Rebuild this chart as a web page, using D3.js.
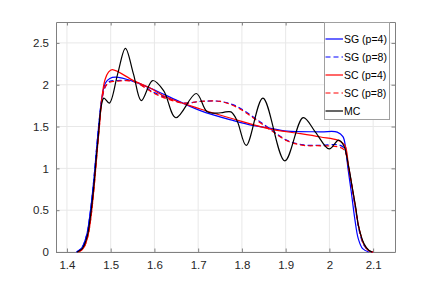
<!DOCTYPE html>
<html>
<head>
<meta charset="utf-8">
<script src="https://cdn.jsdelivr.net/npm/d3@7"></script>
<style>
  body { margin: 0; background: #fff; }
  svg { display: block; font-family: "Liberation Sans", Arial, sans-serif; }
</style>
</head>
<body>
<svg id="chart" width="436" height="284"></svg>
<script>
// density estimates as [x, y] pairs
const sgP4 = [
    [1.422, 0], [1.434, 0.05], [1.445, 0.2], [1.453, 0.46], [1.461, 0.84], [1.4675, 1.22],
    [1.474, 1.58], [1.480, 1.85], [1.488, 2.02], [1.498, 2.075], [1.511, 2.09], [1.552, 2.04],
    [1.590, 1.96], [1.628, 1.87], [1.705, 1.69], [1.781, 1.57], [1.827, 1.51], [1.857, 1.486],
    [1.903, 1.445], [1.98, 1.437], [2.018, 1.434], [2.031, 1.38], [2.037, 1.25], [2.042, 1.02],
    [2.05, 0.72], [2.058, 0.40], [2.066, 0.16], [2.076, 0.04], [2.09, 0]
];
const sgP8 = [
    [1.422, 0], [1.434, 0.05], [1.445, 0.2], [1.453, 0.46], [1.461, 0.84], [1.4675, 1.22],
    [1.474, 1.58], [1.480, 1.83], [1.488, 1.98], [1.498, 2.04], [1.511, 2.05], [1.552, 2.04],
    [1.598, 1.91], [1.630, 1.84], [1.667, 1.78], [1.705, 1.80], [1.751, 1.80], [1.789, 1.74],
    [1.827, 1.61], [1.865, 1.47], [1.903, 1.335], [1.941, 1.28], [1.98, 1.275], [2.022, 1.28],
    [2.034, 1.24], [2.044, 1.0], [2.052, 0.76], [2.060, 0.5], [2.068, 0.26], [2.079, 0.08],
    [2.092, 0.01], [2.1, 0]
];
const scP4 = [
    [1.426, 0], [1.437, 0.04], [1.447, 0.17], [1.455, 0.42], [1.4625, 0.80], [1.469, 1.20],
    [1.475, 1.55], [1.480, 1.85], [1.487, 2.06], [1.495, 2.15], [1.5035, 2.18], [1.552, 2.05],
    [1.590, 1.96], [1.628, 1.85], [1.705, 1.71], [1.781, 1.59], [1.865, 1.47], [1.934, 1.415],
    [1.98, 1.375], [2.02, 1.335], [2.035, 1.28], [2.044, 1.02], [2.052, 0.78], [2.060, 0.52],
    [2.068, 0.28], [2.079, 0.09], [2.09, 0.015], [2.1, 0]
];
const scP8 = [
    [1.426, 0], [1.437, 0.04], [1.447, 0.17], [1.455, 0.42], [1.4625, 0.80], [1.469, 1.20],
    [1.475, 1.55], [1.480, 1.82], [1.488, 1.98], [1.498, 2.03], [1.511, 2.04], [1.552, 2.04],
    [1.598, 1.90], [1.630, 1.83], [1.667, 1.78], [1.705, 1.80], [1.751, 1.80], [1.789, 1.73],
    [1.827, 1.60], [1.865, 1.46], [1.903, 1.33], [1.941, 1.275], [1.98, 1.27], [2.022, 1.255],
    [2.034, 1.22], [2.044, 1.0], [2.052, 0.77], [2.060, 0.52], [2.068, 0.28], [2.079, 0.09],
    [2.092, 0.01], [2.1, 0]
];
const mc = [
    [1.423, 0], [1.435, 0.04], [1.446, 0.18], [1.4536, 0.42], [1.4613, 0.78], [1.4673, 1.14],
    [1.4728, 1.45], [1.478, 1.73], [1.4845, 1.84], [1.497, 1.78], [1.516, 2.13], [1.5337, 2.435],
    [1.552, 2.13], [1.570, 1.81], [1.596, 2.05], [1.621, 1.93], [1.649, 1.605], [1.6956, 1.895],
    [1.72, 1.68], [1.743, 1.66], [1.758, 1.67], [1.775, 1.675], [1.789, 1.57], [1.810, 1.275],
    [1.848, 1.84], [1.898, 1.09], [1.940, 1.607], [1.968, 1.434], [1.9995, 1.232], [2.021, 1.338],
    [2.033, 1.27], [2.044, 1.02], [2.052, 0.78], [2.060, 0.54], [2.067, 0.30], [2.079, 0.10],
    [2.09, 0.02], [2.098, 0]
];

const seriesNames = ['SG (p=4)', 'SG (p=8)', 'SC (p=4)', 'SC (p=8)', 'MC'];
const seriesData = [sgP4, sgP8, scP4, scP8, mc];
const seriesColors = ['#0000ff', '#0000ff', '#ff0000', '#ff0000', '#000000'];
const seriesDashed = [false, true, false, true, false];

const xTickValues = [1.4, 1.5, 1.6, 1.7, 1.8, 1.9, 2, 2.1];
const yTickValues = [0, 0.5, 1, 1.5, 2, 2.5];

const svg = d3.select('#chart');

// geometry of the axes box
const margin = { top: 22, right: 41, bottom: 32, left: 56 };
const width = +svg.attr('width');
const height = +svg.attr('height');
const innerWidth = width - margin.left - margin.right;
const innerHeight = height - margin.top - margin.bottom;
const g = svg.append('g')
        .attr('transform', `translate(${margin.left}, ${margin.top})`);

const xScale = d3.scaleLinear()
        .domain([1.375, 2.15])
        .range([0, innerWidth]);
const yScale = d3.scaleLinear()
        .domain([0, 2.75])
        .range([innerHeight, 0]);

// grid lines
g.append('g')
        .selectAll('line')
        .data(xTickValues)
        .join('line')
        .attr('x1', d => xScale(d))
        .attr('x2', d => xScale(d))
        .attr('y1', 0)
        .attr('y2', innerHeight)
        .attr('stroke', '#e8e8e8')
        .attr('stroke-width', 1);
g.append('g')
        .selectAll('line')
        .data(yTickValues)
        .join('line')
        .attr('x1', 0)
        .attr('x2', innerWidth)
        .attr('y1', d => yScale(d))
        .attr('y2', d => yScale(d))
        .attr('stroke', '#e8e8e8')
        .attr('stroke-width', 1);

// axes, ticks pointing inward like matlab
const tickSize = -3.5;
const fmt = d => d3.format('~g')(d);
const axisColor = '#808080';
const axes = [
    { axis: d3.axisBottom(xScale).tickValues(xTickValues).tickFormat(fmt).tickPadding(9), t: `translate(0, ${innerHeight})`, labels: true },
    { axis: d3.axisTop(xScale).tickValues(xTickValues), t: 'translate(0, 0)', labels: false },
    { axis: d3.axisLeft(yScale).tickValues(yTickValues).tickFormat(fmt).tickPadding(7), t: 'translate(0, 0)', labels: true },
    { axis: d3.axisRight(yScale).tickValues(yTickValues), t: `translate(${innerWidth}, 0)`, labels: false }
];
axes.forEach(a => {
    const ag = g.append('g')
            .attr('transform', a.t)
            .call(a.axis.tickSizeInner(tickSize).tickSizeOuter(0))
            .attr('font-size', 11.5)
            .attr('font-family', '"Liberation Sans", Arial, sans-serif');
    ag.select('.domain').attr('stroke', axisColor);
    ag.selectAll('.tick line').attr('stroke', axisColor);
    if (a.labels) {
        ag.selectAll('.tick text').attr('fill', '#262626');
    } else {
        ag.selectAll('.tick text').remove();
    }
});

// curves
const line = d3.line()
        .x(d => xScale(d[0]))
        .y(d => yScale(d[1]))
        .curve(d3.curveCatmullRom.alpha(0.5));
const plot = g.append('g');
seriesData.forEach((data, i) => {
    plot.append('path')
            .datum(data)
            .attr('fill', 'none')
            .attr('stroke', seriesColors[i])
            .attr('stroke-width', 1.2)
            .attr('stroke-dasharray', seriesDashed[i] ? '5,3' : null)
            .attr('d', line);
});

// legend
const legendX = 324 - margin.left;
const legendY = 22 - margin.top;
const legend = g.append('g')
        .attr('transform', `translate(${legendX}, ${legendY})`);
legend.append('rect')
        .attr('x', 0.5)
        .attr('y', 0.5)
        .attr('width', 65)
        .attr('height', 97)
        .attr('fill', '#fff')
        .attr('stroke', '#a0a0a0')
        .attr('stroke-width', 1);
seriesNames.forEach((name, i) => {
    const y = 17 + i * 18;
    legend.append('line')
            .attr('x1', 1.5)
            .attr('x2', 19)
            .attr('y1', y)
            .attr('y2', y)
            .attr('stroke', seriesColors[i])
            .attr('stroke-width', 1.2)
            .attr('stroke-dasharray', seriesDashed[i] ? '5,3' : null);
    legend.append('text')
            .attr('x', 20)
            .attr('y', y)
            .attr('dy', '0.35em')
            .attr('font-size', '10.5px')
            .attr('fill', '#000')
            .text(name);
});
</script>
</body>
</html>
